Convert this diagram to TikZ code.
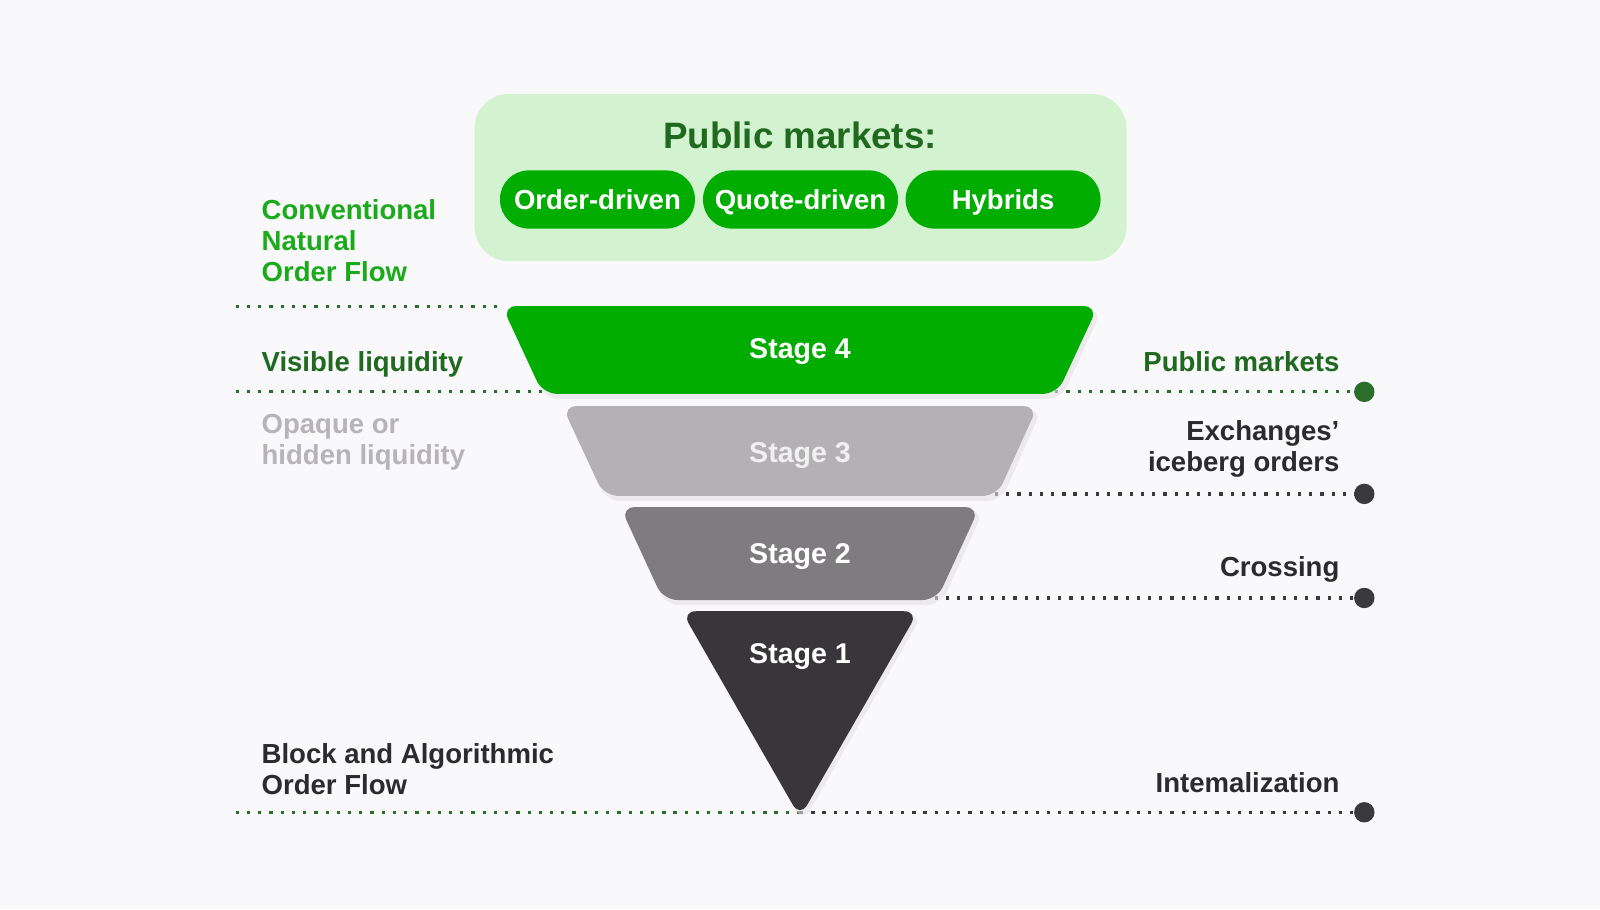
\documentclass[tikz,border=0pt]{standalone}
\usepackage{fontspec}
\setmainfont{Liberation Sans}
\definecolor{bgcol}{HTML}{F9F8FB}
\definecolor{boxgreen}{HTML}{D3F2CF}
\definecolor{pubgreen}{HTML}{00AD00}
\definecolor{titlegreen}{HTML}{1F6A1F}
\definecolor{convgreen}{HTML}{1AAA1A}
\definecolor{dotgreen}{HTML}{2A6E2A}
\definecolor{greylbl}{HTML}{B6B4B8}
\definecolor{darklbl}{HTML}{2B2A2E}
\definecolor{stagethree}{HTML}{B3B1B4}
\definecolor{stagetwo}{HTML}{7F7C80}
\definecolor{stageone}{HTML}{38363A}
\definecolor{darkdot}{HTML}{3A393D}
\definecolor{shadowcol}{HTML}{E4E2E6}
\begin{document}
\begin{tikzpicture}[x=0.5pt,y=-0.5pt,
  dotline/.style={line width=1.6pt, dash pattern=on 1.6pt off 3.9pt},
  lbl/.style={font=\fontsize{13.5}{16}\selectfont\bfseries, inner sep=0pt},
  pill/.style={fill=pubgreen, text=white, rounded corners=14pt, minimum width=95.5pt,
    minimum height=28.5pt, inner sep=0pt, text height=10.5pt, text depth=0.85pt,
    font=\fontsize{13.5}{16}\selectfont\bfseries},
  stagelbl/.style={text=white, font=\fontsize{14}{16}\selectfont\bfseries, inner sep=0pt, anchor=base},
  stageshape/.style={rounded corners=7pt},
  softshadow/.style={fill=shadowcol, rounded corners=7pt, opacity=0.6},
  enddot/.style={circle, inner sep=0pt, minimum size=10pt}
]
% background
\fill[bgcol] (0,0) rectangle (1568,891);
\useasboundingbox (0,0) rectangle (1568,891);

% public markets box
\fill[boxgreen, rounded corners=17pt] (465,92) rectangle (1104,256);
\node[font=\fontsize{18}{20}\selectfont\bfseries, text=titlegreen, anchor=base, inner sep=0pt]
  (title) at (784,146) {Public markets:};
\node[pill] (od) at (585.5,195.5) {Order-driven};
\node[pill] (qd) at (784.5,195.5) {Quote-driven};
\node[pill] (hy) at (983,195.5) {Hybrids};

% guide coordinates
\coordinate (l1) at (231,300);
\coordinate (s4tl) at (494,300);
\coordinate (l2) at (231,384);
\coordinate (s4bl) at (534,384);
\coordinate (s4br) at (1034,384);
\coordinate (s3br) at (975,484);
\coordinate (s2br) at (916,586);
\coordinate (l5) at (231,796);
\coordinate (tip) at (784,796);

% end dots
\node[enddot, fill=dotgreen] (d1) at (1337,384) {};
\node[enddot, fill=darkdot] (d2) at (1337,484) {};
\node[enddot, fill=darkdot] (d3) at (1337,586) {};
\node[enddot, fill=darkdot] (d4) at (1337,796) {};

% dotted guide lines
\draw[dotline, dotgreen] (l1) -- (s4tl);
\draw[dotline, dotgreen] (l2) -- (s4bl);
\draw[dotline, dotgreen] (s4br) -- (d1.center);
\draw[dotline, darkdot] (s3br) -- (d2.center);
\draw[dotline, darkdot] (s2br) -- (d3.center);
\draw[dotline, dotgreen] (l5) -- (tip);
\draw[dotline, darkdot] (tip) -- (d4.center);

% soft shadows of the funnel
\fill[softshadow] (494,303) -- (1080,303) -- (1040,391) -- (534,391) -- cycle;
\fill[softshadow] (553,401) -- (1021,401) -- (981,491) -- (594,491) -- cycle;
\fill[softshadow] (610,500) -- (964,500) -- (922,593) -- (652,593) -- cycle;
\fill[softshadow] (670,602) -- (904,602) -- (787,806) -- cycle;

% funnel
\fill[pubgreen, stageshape] (492,300) -- (1076,300) -- (1036,386) -- (532,386) -- cycle;
\fill[stagethree, stageshape] (551,398) -- (1017,398) -- (977,486) -- (592,486) -- cycle;
\fill[stagetwo, stageshape] (608,497) -- (960,497) -- (918,588) -- (650,588) -- cycle;
\fill[stageone, stageshape] (668,599) -- (900,599) -- (784,801) -- cycle;

\node[stagelbl] (st4) at (784,351) {Stage 4};
\node[stagelbl, text=white!94!black] (st3) at (784,453) {Stage 3};
\node[stagelbl] (st2) at (784,552) {Stage 2};
\node[stagelbl] (st1) at (784,650) {Stage 1};

% left labels
\node[lbl, text=convgreen, anchor=base west] (cv1) at (256,215) {Conventional};
\node[lbl, text=convgreen, anchor=base west] (cv2) at (256,245.5) {Natural};
\node[lbl, text=convgreen, anchor=base west] (cv3) at (256,276) {Order Flow};
\node[lbl, text=titlegreen, anchor=base west] (vis) at (256,364) {Visible liquidity};
\node[lbl, text=greylbl, anchor=base west] (op1) at (256,425) {Opaque or};
\node[lbl, text=greylbl, anchor=base west] (op2) at (256,455.5) {hidden liquidity};
\node[lbl, text=darklbl, anchor=base west] (bl1) at (256,748) {Block and Algorithmic};
\node[lbl, text=darklbl, anchor=base west] (bl2) at (256,778.5) {Order Flow};

% right labels
\node[lbl, text=titlegreen, anchor=base east] (pm) at (1313,364) {Public markets};
\node[lbl, text=darklbl, anchor=base east] (ex1) at (1313,432) {Exchanges’};
\node[lbl, text=darklbl, anchor=base east] (ex2) at (1313,462.5) {iceberg orders};
\node[lbl, text=darklbl, anchor=base east] (cr) at (1313,565) {Crossing};
\node[lbl, text=darklbl, anchor=base east] (in) at (1313,777) {Intemalization};
\end{tikzpicture}
\end{document}
